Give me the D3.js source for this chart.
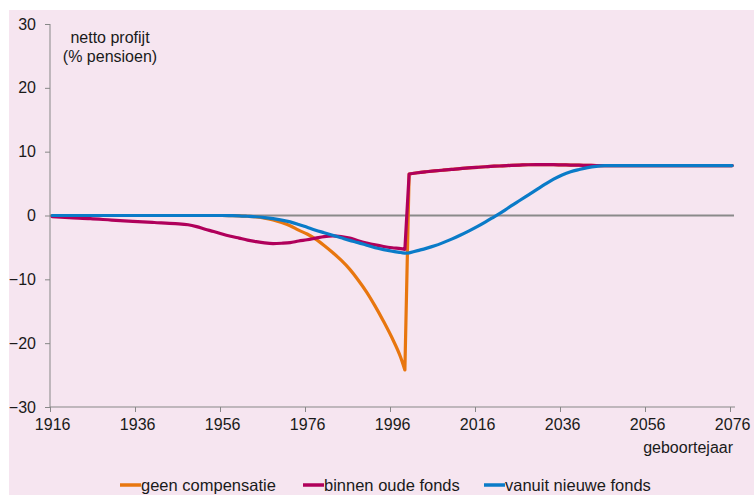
<!DOCTYPE html>
<html>
<head>
<meta charset="utf-8">
<script src="https://cdn.jsdelivr.net/npm/d3@7"></script>
<style>
  html, body { margin: 0; padding: 0; background: #ffffff; }
  svg { display: block; font-family: "Liberation Sans", Arial, sans-serif; }
</style>
</head>
<body>
<svg id="chart" width="754" height="495"></svg>
<script>
// ---- data ----
const years = [1916,1920,1925,1930,1935,1940,1945,1948,1950,1952,1954,1956,1958,1960,1962,1964,1966,1968,1970,1972,1974,1976,1978,1980,1982,1984,1986,1988,1990,1992,1994,1996,1998,1999,2000,2002,2004,2006,2008,2010,2012,2014,2016,2018,2020,2022,2024,2026,2028,2030,2032,2034,2036,2038,2040,2042,2044,2046,2048,2050,2056,2066,2076];

const geenCompensatie = [0,0,0,0,0,0,0,0,0,0,0,0,-0.02,-0.05,-0.12,-0.22,-0.4,-0.7,-1.1,-1.6,-2.3,-2.9,-3.7,-4.7,-5.8,-7.0,-8.4,-10.1,-12.0,-14.2,-16.6,-19.2,-22.2,-24.2,6.5,6.7,6.85,6.98,7.1,7.22,7.35,7.45,7.55,7.64,7.72,7.78,7.85,7.9,7.95,7.97,7.97,7.96,7.93,7.9,7.88,7.85,7.83,7.82,7.82,7.82,7.82,7.82,7.82];

const binnenOudeFonds = [-0.2,-0.35,-0.5,-0.72,-0.92,-1.1,-1.28,-1.45,-1.75,-2.15,-2.5,-2.9,-3.25,-3.55,-3.85,-4.1,-4.3,-4.4,-4.35,-4.25,-4.0,-3.8,-3.55,-3.3,-3.2,-3.3,-3.55,-3.95,-4.3,-4.6,-4.85,-5.05,-5.2,-5.3,6.5,6.7,6.85,6.98,7.1,7.22,7.35,7.45,7.55,7.64,7.72,7.78,7.85,7.9,7.95,7.97,7.97,7.96,7.93,7.9,7.88,7.85,7.83,7.82,7.82,7.82,7.82,7.82,7.82];

const vanuitNieuweFonds = [0,0,0,0,0,0,0,0,0,0,0,0,-0.02,-0.05,-0.12,-0.2,-0.33,-0.5,-0.72,-1.0,-1.4,-1.85,-2.3,-2.7,-3.1,-3.5,-3.9,-4.25,-4.65,-5.05,-5.35,-5.6,-5.8,-5.9,-5.85,-5.5,-5.15,-4.75,-4.25,-3.7,-3.1,-2.45,-1.75,-1.0,-0.2,0.6,1.5,2.35,3.2,4.05,4.9,5.7,6.35,6.85,7.2,7.5,7.7,7.8,7.82,7.82,7.82,7.82,7.82];

const seriesNames = ["geen compensatie", "binnen oude fonds", "vanuit nieuwe fonds"];
const seriesColors = ["#e8760f", "#b0005b", "#0a7bc8"];
const xTickYears = [1916,1936,1956,1976,1996,2016,2036,2056,2076];
const yTickValues = [-30,-20,-10,0,10,20,30];
const yAxisTitle = ["netto profijt", "(% pensioen)"];
const xAxisTitle = "geboortejaar";
const jumpYear = 2000; // year where the compensation regime changes (step in the series)

// ---- layout ----
const svg = d3.select("#chart");
const W = 754, H = 495;
svg.append("rect").attr("x", 9).attr("y", 10).attr("width", W - 9).attr("height", H - 10).attr("fill", "#f6e5f0");

const x = d3.scaleLinear().domain([1915.5, 2076.5]).range([50, 734.25]);
const y = d3.scaleLinear().domain([-30, 30]).range([407, 24]);
const axisColor = "#878787";
const textColor = "#1a1a1a";
const halfSlot = (x(1917) - x(1916)) / 2;

// y axis
const gy = svg.append("g").attr("transform", "translate(50,0)")
  .call(d3.axisLeft(y).tickValues(yTickValues).tickSize(5).tickPadding(9).tickFormat(d3.format("d")));
gy.select(".domain").attr("stroke", axisColor).attr("d", `M0,${y(30)}V${y(-30)}`);
gy.selectAll(".tick line").attr("stroke", axisColor);
gy.selectAll(".tick text").attr("fill", textColor).style("font-size", "16px")
  .style("font-family", "'Liberation Sans', Arial, sans-serif");

// x axis
const gx = svg.append("g").attr("transform", `translate(0,${y(-30)})`)
  .call(d3.axisBottom(x).tickValues(xTickYears).tickSize(5).tickPadding(7).tickFormat(d3.format("d")));
gx.select(".domain").attr("stroke", axisColor).attr("d", `M50,0H735`);
gx.selectAll(".tick line").attr("stroke", axisColor).attr("x1", -halfSlot).attr("x2", -halfSlot);
gx.selectAll(".tick text").attr("fill", textColor).style("font-size", "16px")
  .style("font-family", "'Liberation Sans', Arial, sans-serif");

// zero line
svg.append("line").attr("x1", 50).attr("x2", 734).attr("y1", y(0)).attr("y2", y(0))
  .attr("stroke", "#8a8a8a").attr("stroke-width", 2);

// series: smooth before and after the jump, straight across the jump
const allSeries = [geenCompensatie, binnenOudeFonds, vanuitNieuweFonds];
const line = d3.line().x(d => x(d[0])).y(d => y(d[1])).curve(d3.curveMonotoneX);
allSeries.forEach((vals, i) => {
  const pts = years.map((yr, j) => [yr, vals[j]]);
  const a = pts.filter(p => p[0] < jumpYear);
  const b = pts.filter(p => p[0] >= jumpYear);
  const d = line(a) + line(b).replace(/^M/, "L");
  svg.append("path").attr("d", d)
    .attr("fill", "none").attr("stroke", seriesColors[i]).attr("stroke-width", 3.2)
    .attr("stroke-linejoin", "round").attr("stroke-linecap", "round");
});

// titles
const tt = svg.append("text").attr("fill", textColor).style("font-size", "16px").attr("text-anchor", "middle");
tt.append("tspan").attr("x", 110).attr("y", 43).text(yAxisTitle[0]);
tt.append("tspan").attr("x", 110).attr("y", 62).text(yAxisTitle[1]);
svg.append("text").attr("x", 733).attr("y", 453).attr("text-anchor", "end")
  .attr("fill", textColor).style("font-size", "16px").text(xAxisTitle);

// legend
const legendX = [120, 303, 484];
seriesNames.forEach((name, i) => {
  const g = svg.append("g").attr("transform", `translate(${legendX[i]},485)`);
  g.append("line").attr("x1", 0).attr("x2", 21).attr("y1", 0).attr("y2", 0)
    .attr("stroke", seriesColors[i]).attr("stroke-width", 3.5);
  g.append("text").attr("x", 21).attr("y", 5.5).attr("fill", textColor)
    .style("font-size", "16.5px").text(name);
});
</script>
</body>
</html>
